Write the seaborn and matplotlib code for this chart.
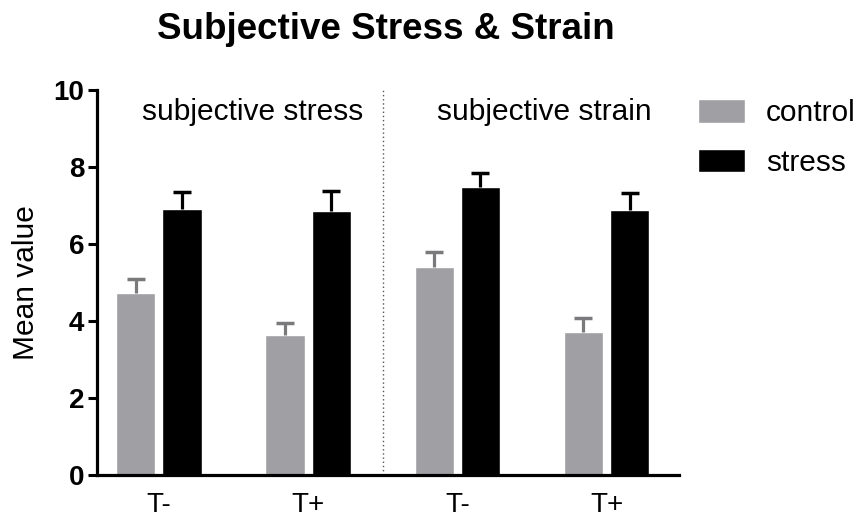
import numpy as np
import pandas as pd
import matplotlib
matplotlib.use('Agg')
import matplotlib.pyplot as plt
import seaborn as sns
from matplotlib.patches import Patch

# values
conditions = ['stress T-', 'stress T+', 'strain T-', 'strain T+']
tick_labels = ['T-', 'T+', 'T-', 'T+']
control_mean = [4.72, 3.65, 5.41, 3.72]
control_err = [0.37, 0.29, 0.39, 0.35]
stress_mean = [6.91, 6.86, 7.49, 6.88]
stress_err = [0.45, 0.52, 0.37, 0.44]
groups = ['control', 'stress']
colors = {'control': '#a0a0a4', 'stress': '#000000'}
err_colors = {'control': '#7a7a7d', 'stress': '#000000'}


def main():
    sns.set_style('white')
    plt.rcParams['font.family'] = ['Liberation Sans', 'DejaVu Sans']
    for key in ['text.color', 'axes.labelcolor', 'xtick.color', 'ytick.color']:
        plt.rcParams[key] = 'black'

    df = pd.DataFrame({
        'condition': conditions * 2,
        'group': ['control'] * 4 + ['stress'] * 4,
        'value': control_mean + stress_mean,
        'err': control_err + stress_err,
    })

    fig = plt.figure(figsize=(8.62, 5.2), dpi=100)
    ax = fig.add_axes([0.1125, 0.0865, 0.675, 0.740])
    sns.barplot(data=df, x='condition', y='value', hue='group', order=conditions,
                hue_order=groups, palette=colors, width=0.62, gap=0.15,
                errorbar=None, legend=False, ax=ax, saturation=1)

    # upper error bars only, placed on the bars seaborn drew
    for container, g in zip(ax.containers, groups):
        sub = df[df.group == g].set_index('condition').loc[conditions]
        xs = [p.get_x() + p.get_width() / 2 for p in container.patches]
        eb = ax.errorbar(xs, sub['value'], yerr=[np.zeros(4), sub['err']], fmt='none',
                         ecolor=err_colors[g], elinewidth=2.3, capsize=6.3, capthick=2.5)
        eb[1][0].set_visible(False)

    ax.set_ylim(0, 10)
    ax.set_xlim(-0.415, 3.484)
    ax.set_yticks([0, 2, 4, 6, 8, 10])
    ax.set_yticklabels(['0', '2', '4', '6', '8', '10'], fontsize=20, fontweight='bold')
    ax.set_xticks(range(4))
    ax.set_xticklabels(tick_labels, fontsize=20)
    ax.tick_params(axis='y', direction='out', length=6.5, width=2.2, left=True, pad=2.5)
    ax.tick_params(axis='x', length=0, pad=12)
    ax.set_xlabel('')
    ax.set_ylabel('Mean value', fontsize=21.5, labelpad=10)
    for side in ['top', 'right']:
        ax.spines[side].set_visible(False)
    for side in ['left', 'bottom']:
        ax.spines[side].set_linewidth(2.3)
        ax.spines[side].set_color('black')

    ax.axvline(1.5, ymin=0, ymax=1, color='#555555', linestyle=(0, (1, 2)), linewidth=1)
    ax.text(0.627, 9.22, 'subjective stress', ha='center', va='baseline', fontsize=21.5)
    ax.text(2.585, 9.22, 'subjective strain', ha='center', va='baseline', fontsize=21.5)

    handles = [Patch(facecolor=colors[g], label=g) for g in groups]
    fig.legend(handles=handles, loc='upper left', bbox_to_anchor=(698 / 862, 1 - 99 / 520),
               frameon=False, fontsize=21.5, handlelength=1.57, handleheight=0.84,
               labelspacing=0.72, handletextpad=0.7, borderpad=0, borderaxespad=0)

    fig.text(0.448, 1 - 39 / 520, 'Subjective Stress & Strain', ha='center', va='baseline',
             fontsize=26.5, fontweight='bold')
    fig.savefig('out.png', dpi=100)


main()
